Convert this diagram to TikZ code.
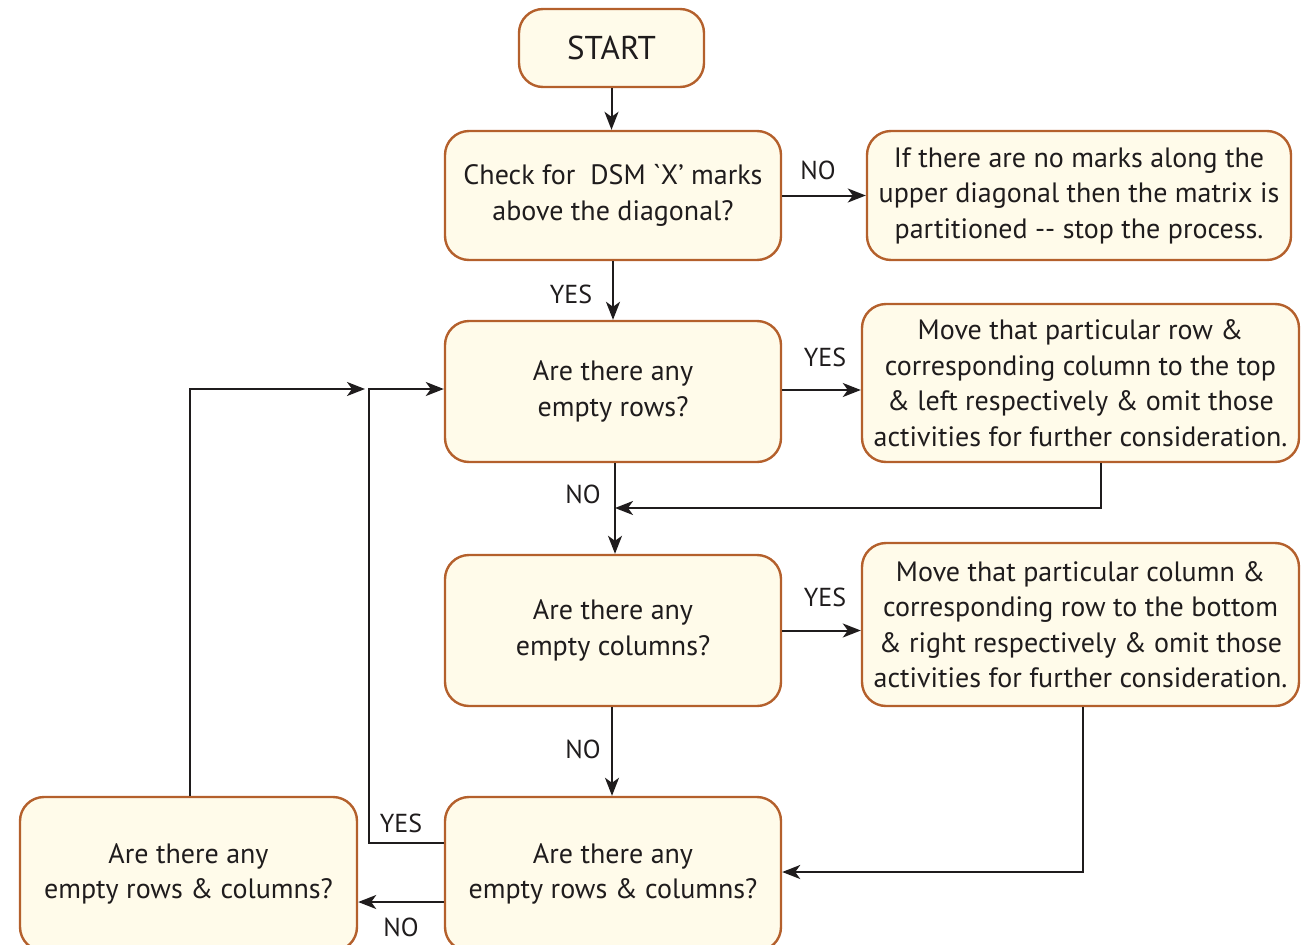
\documentclass[tikz,border=0pt]{standalone}
\usepackage{fontspec}
\setmainfont{PT Sans}
\usetikzlibrary{arrows.meta}

\definecolor{boxfill}{HTML}{FFFBEA}
\definecolor{boxline}{HTML}{B4602C}
\definecolor{linegray}{HTML}{1F1C1D}

\begin{document}
\begin{tikzpicture}[
    x=1pt, y=-1pt,
    font=\fontsize{28}{35.5}\selectfont,
    stepbox/.style = {
      shape=rectangle,
      rounded corners=24pt,
      draw=boxline,
      line width=2.4pt,
      fill=boxfill,
      text=linegray,
      align=center,
      inner sep=0pt
    },
    arr/.style = {
      draw=linegray,
      line width=2pt,
      -{Stealth[length=18pt,width=14pt,inset=5pt]}
    },
    lbl/.style = {text=linegray, inner sep=0pt, font=\fontsize{26}{30}\selectfont}
    ]
    \clip (0,0) rectangle (1315,945);

    \node[stepbox, minimum width=185pt, minimum height=78pt, font=\fontsize{33}{36}\selectfont] (start) at (611.5,48) {START};
    \node[stepbox, minimum width=336pt, minimum height=129pt] (check) at (613,195.5)
      {Check for\ \ DSM \textasciigrave X’ marks\\above the diagonal?};
    \node[stepbox, minimum width=424pt, minimum height=129pt] (stop) at (1079,195.5)
      {If there are no marks along the\\upper diagonal then the matrix is\\partitioned -{}- stop the process.};
    \node[stepbox, minimum width=336pt, minimum height=141pt] (rows) at (613,391.5)
      {Are there any\\empty rows?};
    \node[stepbox, minimum width=437pt, minimum height=158pt] (moverow) at (1080.5,383)
      {Move that particular row \&\\corresponding column to the top\\\& left respectively \& omit those\\activities for further consideration.};
    \node[stepbox, minimum width=336pt, minimum height=151pt] (cols) at (613,630.5)
      {Are there any\\empty columns?};
    \node[stepbox, minimum width=437pt, minimum height=163pt] (movecol) at (1080.5,624.5)
      {Move that particular column \&\\corresponding row to the bottom\\\& right respectively \& omit those\\activities for further consideration.};
    \node[stepbox, minimum width=336pt, minimum height=154pt] (both) at (613,874)
      {Are there any\\empty rows \& columns?};
    \node[stepbox, minimum width=337pt, minimum height=154pt] (bothleft) at (188.5,874)
      {Are there any\\empty rows \& columns?};

    % merge points of the loops back to the rows check
    \coordinate (mergeA) at (369,389);
    \coordinate (mergeB) at (615,508);

    \draw[arr] (start.south) -- (start.south |- check.north);
    \draw[arr] (check.east) -- (check.east -| stop.west);
    \draw[arr] (check.south) -- (check.south |- rows.north);
    \draw[arr] ([yshift=1.5pt]rows.east) -- ([yshift=1.5pt]rows.east -| moverow.west);
    \draw[arr] ([xshift=2pt]rows.south) -- ([xshift=2pt]rows.south |- cols.north);
    \draw[arr] ([xshift=20.5pt]moverow.south) |- (mergeB);
    \draw[arr] (cols.east) -- (cols.east -| movecol.west);
    \draw[arr] ([xshift=-1pt]cols.south) -- ([xshift=-1pt]cols.south |- both.north);
    \draw[arr] ([xshift=2.5pt]movecol.south) |- ([yshift=2pt]both.east);
    \draw[arr] ([yshift=31pt]both.west) -| (mergeA) -- (mergeA -| rows.west);
    \draw[arr] ([yshift=-28pt]both.west) -- ([yshift=-28pt]both.west -| bothleft.east);
    \draw[arr] ([xshift=1.5pt]bothleft.north) |- ([xshift=-4pt]mergeA);

    \node[lbl] (noA) at (818,170) {NO};
    \node[lbl] (yesA) at (571,294) {YES};
    \node[lbl] (yesB) at (825,357) {YES};
    \node[lbl] (noB) at (583,494) {NO};
    \node[lbl] (yesC) at (825,597) {YES};
    \node[lbl] (noC) at (583,749) {NO};
    \node[lbl] (yesD) at (401,823) {YES};
    \node[lbl] (noD) at (401,927) {NO};
\end{tikzpicture}
\end{document}
